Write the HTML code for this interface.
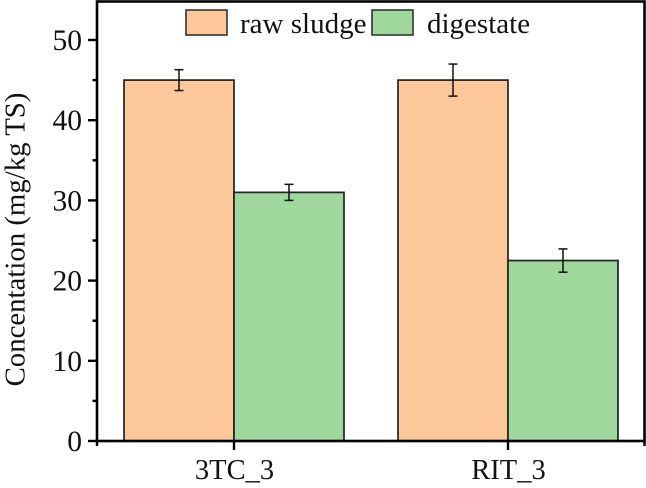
<!DOCTYPE html>
<html>
<head>
<meta charset="utf-8">
<style>
html,body{margin:0;padding:0;background:#fff;width:646px;height:488px;overflow:hidden}
svg{display:block}
text{font-family:"Liberation Serif",serif;fill:#111}
</style>
</head>
<body>
<svg id="chart" width="646" height="488" viewBox="0 0 646 488" xmlns="http://www.w3.org/2000/svg"></svg>
<script>
const categories = ['3TC_3', 'RIT_3'];
const seriesNames = ['raw sludge', 'digestate'];
const rawSludge = [45, 45];
const digestate = [31, 22.5];
const rawSludgeError = [1.3, 2];
const digestateError = [1, 1.45];
const yTickLabels = [0, 10, 20, 30, 40, 50];
const yMinorTicks = [5, 15, 25, 35, 45];

const svg = document.getElementById('chart');
const NS = 'http://www.w3.org/2000/svg';
const plot = {left: 97, right: 644.5, top: 1.5, bottom: 441};
const yMax = 54.8;
const barWidth = 110;
const colors = ['#fdc899', '#9fd79d'];

function y(v) { return plot.bottom - v / yMax * (plot.bottom - plot.top); }
function x(i) { return 234 + i * 274; }

function make(tag, attrs, parent) {
  const el = document.createElementNS(NS, tag);
  for (const k in attrs) el.setAttribute(k, attrs[k]);
  (parent || svg).appendChild(el);
  return el;
}
function line(x1, y1, x2, y2, w, parent, col) {
  return make('line', {x1, y1, x2, y2, stroke: col || '#000', 'stroke-width': w}, parent);
}
function label(str, px, py, size, anchor, parent) {
  const t = make('text', {x: px, y: py, 'font-size': size, 'text-anchor': anchor}, parent);
  t.textContent = str;
  return t;
}

const seriesData = [rawSludge, digestate];
const seriesErrors = [rawSludgeError, digestateError];

seriesData.forEach(function (vals, s) {
  vals.forEach(function (v, i) {
    const left = x(i) + (s === 0 ? -barWidth : 0);
    const bar = make('rect', {x: left, y: y(v), width: barWidth, height: plot.bottom - y(v), fill: colors[s], stroke: '#222', 'stroke-width': 1.7});
    
    
  });
});

seriesData.forEach(function (vals, s) {
  vals.forEach(function (v, i) {
    const cx = x(i) + (s === 0 ? -barWidth / 2 : barWidth / 2);
    const e = seriesErrors[s][i];
    const g = make('g', {});
    
    
    line(cx, y(v + e), cx, y(v - e), 1.5, g, '#111');
    line(cx - 4.5, y(v + e), cx + 4.5, y(v + e), 1.5, g, '#111');
    line(cx - 4.5, y(v - e), cx + 4.5, y(v - e), 1.5, g, '#111');
  });
});

const frame = make('rect', {x: plot.left, y: plot.top, width: plot.right - plot.left, height: plot.bottom - plot.top, fill: 'none', stroke: '#000', 'stroke-width': 2.6});



const yAxis = make('g', {});


yTickLabels.forEach(function (v) {
  line(88, y(v), plot.left, y(v), 2.4, yAxis);
  label(String(v), 82, y(v) + 10, 29.5, 'end', yAxis);
});
yMinorTicks.forEach(function (v) {
  line(92.5, y(v), plot.left, y(v), 2.4, yAxis);
});

const xAxis = make('g', {});


line(plot.left, plot.bottom, plot.left, 446, 2.4, xAxis);
line(plot.right, plot.bottom, plot.right, 446, 2.4, xAxis);
categories.forEach(function (c, i) {
  line(x(i), plot.bottom, x(i), 450, 2.4, xAxis);
  label(c, x(i) + 0.5, 479, 28.5, 'middle', xAxis);
});

const yTitle = label('Concentation (mg/kg TS)', 0, 0, 28.8, 'middle');
yTitle.setAttribute('transform', 'translate(24.5,239.5) rotate(-90)');



const legendX = [186, 372];
const legendTextX = [240, 427];
seriesNames.forEach(function (n, s) {
  const g = make('g', {});
  
  
  make('rect', {x: legendX[s], y: 10, width: 41, height: 25, fill: colors[s], stroke: '#333', 'stroke-width': 1.6}, g);
  label(n, legendTextX[s], 33, 29, 'start', g);
});
</script>
</body>
</html>
